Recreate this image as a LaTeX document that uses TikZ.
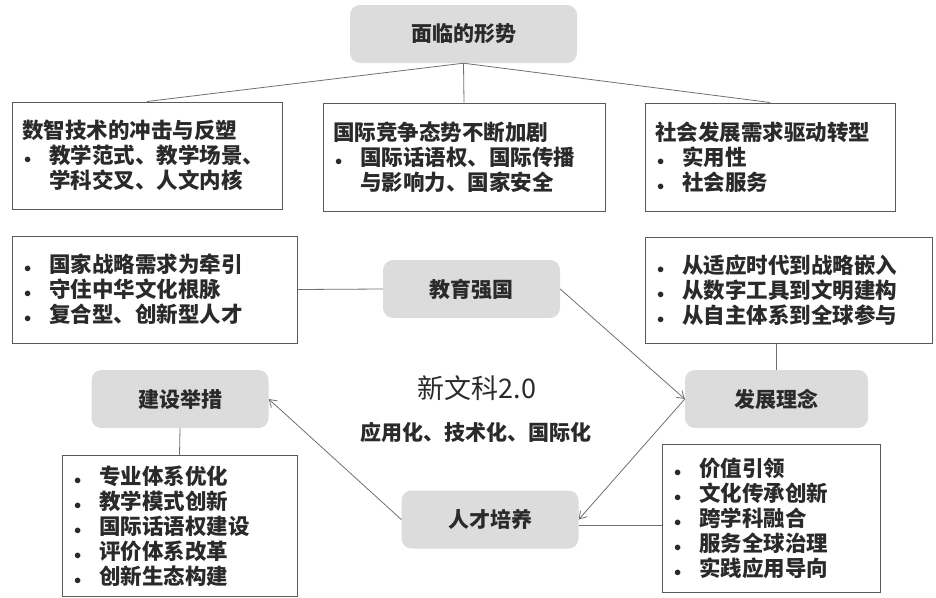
\documentclass[tikz,border=0pt]{standalone}
\usepackage{fontspec}
\setmainfont{Noto Sans CJK SC}
\usetikzlibrary{arrows.meta}
\definecolor{topicgray}{HTML}{DCDCDC}
\definecolor{linegray}{HTML}{707070}
\definecolor{txt}{HTML}{2A2A2A}
\newcommand{\itm}{\makebox[27pt][l]{\hspace{2pt}$\scriptstyle\bullet$}}
\newcommand{\cont}{\hspace*{27pt}}

\begin{document}
\begin{tikzpicture}[x=1pt,y=-1pt,>={Straight Barb[length=7pt,width=9pt]}]
\tikzstyle{topic}=[fill=topicgray,rounded corners=10pt,minimum width=177pt,minimum height=58pt,text=txt,font=\fontsize{21}{25}\selectfont\bfseries]
\tikzstyle{list}=[draw=black!65,line width=1pt,align=left,inner sep=10pt,text=txt,font=\fontsize{21.5}{25}\selectfont\bfseries]
\tikzstyle{link}=[draw=linegray,line width=0.8pt]
\useasboundingbox (0,0) rectangle (936,597);

% situation
\node[topic,minimum width=227pt](mlxs) at (463.5,34) {面临的形势};
\node[list,text width=250pt,minimum height=107pt](sz) at (147,155.5) {数智技术的冲击与反塑\\ \itm 教学范式、教学场景、\\ \cont 学科交叉、人文内核};
\node[list,text width=262pt,minimum height=108pt](gj) at (464,157) {国际竞争态势不断加剧\\ \itm 国际话语权、国际传播\\ \cont 与影响力、国家安全};
\node[list,text width=230pt,minimum height=108pt](sh) at (770,157) {社会发展需求驱动转型\\ \itm 实用性\\ \itm 社会服务};
\draw[link] (mlxs.south) -- (sz.north);
\draw[link] (mlxs.south) -- (gj.north);
\draw[link] (mlxs.south) -- (sh.north);

% cycle
\node[topic](jyqg) at (471.5,289) {教育强国};
\node[topic,minimum width=183pt](fzln) at (776.5,399) {发展理念};
\node[topic](rcpy) at (490,519.5) {人才培养};
\node[topic](jscs) at (180,399) {建设举措};
\draw[link,->] (jyqg.east) -- (fzln.west);
\draw[link,->] (fzln.west) -- (rcpy.east);
\draw[link,->] (rcpy.west) -- (jscs.east);

\node[text=txt,font=\fontsize{27}{30}\selectfont](xwk) at (477,388) {新文科2.0};
\node[text=txt,font=\fontsize{21}{25}\selectfont\bfseries](yyh) at (476,432) {应用化、技术化、国际化};

% lists
\node[list,text width=265pt,minimum height=107pt](zl) at (154.5,289.5) {\itm 国家战略需求为牵引\\ \itm 守住中华文化根脉\\ \itm 复合型、创新型人才};
\node[list,text width=267pt,minimum height=106pt](ln) at (788.5,290) {\itm 从适应时代到战略嵌入\\ \itm 从数字工具到文明建构\\ \itm 从自主体系到全球参与};
\node[list,text width=215pt,minimum height=140pt](cs) at (179.5,526) {\itm 专业体系优化\\ \itm 教学模式创新\\ \itm 国际话语权建设\\ \itm 评价体系改革\\ \itm 创新生态构建};
\node[list,text width=198pt,minimum height=148pt](py) at (771,518) {\itm 价值引领\\ \itm 文化传承创新\\ \itm 跨学科融合\\ \itm 服务全球治理\\ \itm 实践应用导向};
\draw[link] (zl.east) -- (jyqg.west);
\draw[link] (fzln.north) -- (fzln.north |- ln.south);
\draw[link] (jscs.south) -- (cs.north);
\draw[link] ([yshift=-6pt]rcpy.east) -- ([yshift=-6pt]rcpy.east -| py.west);
\end{tikzpicture}
\end{document}
